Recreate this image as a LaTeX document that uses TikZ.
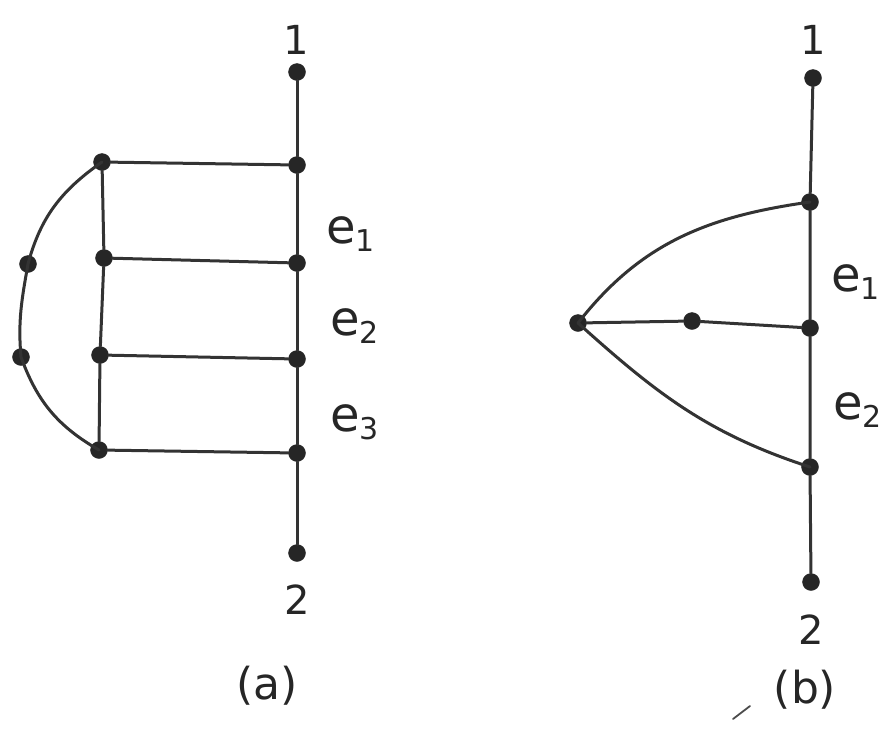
\documentclass[tikz,border=0pt]{standalone}
\usepackage{fontspec}
\setmainfont{DejaVu Sans}
\begin{document}
\begin{tikzpicture}[x=1pt,y=-1pt,
  dot/.style={circle,fill=black!85,draw=black!85,inner sep=0pt,minimum size=17pt},
  edge/.style={line width=3pt,draw=black!80,line cap=round},
  lbl/.style={font=\fontsize{40}{46}\selectfont,text=black!85,inner sep=0pt},
  captxt/.style={font=\fontsize{44}{50}\selectfont,text=black!85,inner sep=0pt},
  elbl/.style={font=\fontsize{48}{54}\selectfont,text=black!85,inner sep=0pt}]
\useasboundingbox (0,0) rectangle (894,729);
% ---------- (a) ----------
\node[dot] (a1) at (297,72) {};
\node[dot] (ar1) at (297,165) {};
\node[dot] (ar2) at (297,263) {};
\node[dot] (ar3) at (297,359) {};
\node[dot] (ar4) at (297,453) {};
\node[dot] (a2) at (297,553) {};
\node[dot] (al1) at (102,162) {};
\node[dot] (al2) at (104,258) {};
\node[dot] (al3) at (100,355) {};
\node[dot] (al4) at (99,450) {};
\node[dot] (af1) at (28,264) {};
\node[dot] (af2) at (21,357) {};
\draw[edge] (a1) -- (ar1) -- (ar2) -- (ar3) -- (ar4) -- (a2);
\draw[edge] (al1) -- (al2) -- (al3) -- (al4);
\draw[edge] (al1) -- (ar1);
\draw[edge] (al2) -- (ar2);
\draw[edge] (al3) -- (ar3);
\draw[edge] (al4) -- (ar4);
\draw[edge] (al1.center) to[out=215,in=75] (af1.center)
  to[out=-100,in=95] (af2.center) to[out=-70,in=150] (al4.center);
\node[lbl] (la1) at (296,40) {1};
\node[lbl] (la2) at (297,600) {2};
\node[elbl,anchor=west] (ea1) at (326,234) {e\raisebox{-0.3ex}{\fontsize{30}{34}\selectfont 1}};
\node[elbl,anchor=west] (ea2) at (330,326) {e\raisebox{-0.3ex}{\fontsize{30}{34}\selectfont 2}};
\node[elbl,anchor=west] (ea3) at (330,422) {e\raisebox{-0.3ex}{\fontsize{30}{34}\selectfont 3}};
\node[captxt] (capa) at (267,686) {(a)};
% ---------- (b) ----------
\node[dot] (b1) at (813,78) {};
\node[dot] (br1) at (810,202) {};
\node[dot] (br2) at (810,328) {};
\node[dot] (br3) at (810,467) {};
\node[dot] (b2) at (811,582) {};
\node[dot] (bl) at (578,323) {};
\node[dot] (bm) at (692,321) {};
\draw[edge] (b1) -- (br1) -- (br2) -- (br3) -- (b2);
\draw[edge] (bl) -- (bm) -- (br2);
\draw[edge] (bl.center) to[out=52,in=188] (br1.center);
\draw[edge] (bl.center) to[out=-42,in=162] (br3.center);
\node[lbl] (lb1) at (813,40) {1};
\node[lbl] (lb2) at (811,630) {2};
\node[elbl,anchor=west] (eb1) at (831,282) {e\raisebox{-0.3ex}{\fontsize{30}{34}\selectfont 1}};
\node[elbl,anchor=west] (eb2) at (833,410) {e\raisebox{-0.3ex}{\fontsize{30}{34}\selectfont 2}};
\node[captxt] (capb) at (805,690) {(b)};
\coordinate (s1) at (733,719);
\coordinate (s2) at (750,706);
\draw[line width=1.8pt,draw=black!70,line cap=round] (s1) -- (s2);
\end{tikzpicture}
\end{document}
